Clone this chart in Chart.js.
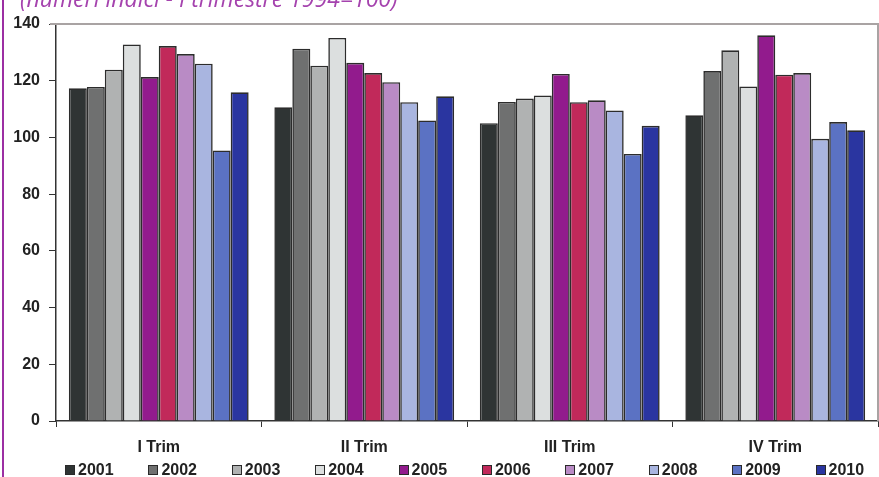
<!DOCTYPE html>
<html>
<head>
<meta charset="utf-8">
<script src="https://cdn.jsdelivr.net/npm/chart.js@4.4.1/dist/chart.umd.min.js"></script>
<style>
    html, body { margin: 0; padding: 0; background: #fff; }
    #wrap { position: relative; width: 879px; height: 477px; overflow: hidden; }
    #wrap canvas { position: absolute; left: 0; top: 0; }
    #edge { position: absolute; left: 2px; top: 0; width: 2px; height: 477px; background: #9c2fa3; }
    #note { position: absolute; left: 20px; top: -18px; white-space: nowrap;
            font: italic 23px "Open Sans", sans-serif; color: #a543ae; }
    #legend { position: absolute; left: 65px; top: 460px; height: 20px; display: flex;
              font: bold 16px "Liberation Sans", Arial, sans-serif; color: #222; }
    #legend .item { width: 83.4px; display: flex; align-items: center; white-space: nowrap; }
    #legend .box { width: 8px; height: 8px; border: 1px solid #2a2a2a; margin-right: 3px; flex: none; }
</style>
</head>
<body>
<div id="wrap">
    <canvas id="chart" width="879" height="477"></canvas>
    <div id="edge"></div>
    <div id="note">(numeri indici - I trimestre 1994=100)</div>
    <div id="legend"></div>
</div>
<script>
const quarters = ['I Trim', 'II Trim', 'III Trim', 'IV Trim'];
const years = ['2001', '2002', '2003', '2004', '2005', '2006', '2007', '2008', '2009', '2010'];

// one value per quarter for each year
const y2001 = [117.3, 110.6, 105.0, 107.8];
const y2002 = [117.8, 131.3, 112.5, 123.4];
const y2003 = [123.9, 125.3, 113.7, 130.7];
const y2004 = [132.8, 135.1, 114.8, 118.0];
const y2005 = [121.3, 126.3, 122.4, 136.0];
const y2006 = [132.2, 122.7, 112.4, 122.1];
const y2007 = [129.4, 119.5, 113.1, 122.7];
const y2008 = [126.0, 112.4, 109.5, 99.5];
const y2009 = [95.4, 106.0, 94.2, 105.4];
const y2010 = [115.9, 114.5, 104.1, 102.5];
const yearValues = [y2001, y2002, y2003, y2004, y2005, y2006, y2007, y2008, y2009, y2010];

const yearColors = ['#2f3434', '#6f7070', '#b0b2b2', '#dcdfdf', '#921b8d',
                    '#c1295a', '#b98bc5', '#a9b5e0', '#5b72c3', '#2a35a0'];

const yTicks = [0, 20, 40, 60, 80, 100, 120, 140];

const labelFont = { family: '"Liberation Sans", Arial, sans-serif', weight: 'bold', size: 16 };

// grey top and right edge of the plot box
const framePlugin = {
    id: 'frame',
    beforeDatasetsDraw(chart) {
        const { ctx, chartArea: a } = chart;
        ctx.save();
        ctx.strokeStyle = '#a9a3a3';
        ctx.lineWidth = 2;
        ctx.beginPath();
        ctx.moveTo(a.left - 6, a.top);
        ctx.lineTo(a.right, a.top);
        ctx.lineTo(a.right, a.bottom);
        ctx.stroke();
        ctx.restore();
    }
};

// legend row built from the chart's own legend items
const htmlLegend = {
    id: 'htmlLegend',
    afterUpdate(chart) {
        const holder = document.getElementById('legend');
        holder.innerHTML = '';
        chart.options.plugins.legend.labels.generateLabels(chart).forEach(item => {
            const row = document.createElement('div');
            row.className = 'item';
            const box = document.createElement('span');
            box.className = 'box';
            box.style.background = item.fillStyle;
            const txt = document.createElement('span');
            txt.textContent = item.text;
            row.append(box, txt);
            holder.appendChild(row);
        });
    }
};

new Chart(document.getElementById('chart').getContext('2d'), {
    type: 'bar',
    data: {
        labels: quarters,
        datasets: years.map((yr, i) => ({
            label: yr,
            data: yearValues[i],
            backgroundColor: yearColors[i],
            borderColor: '#2c2c2c',
            borderWidth: 1.6,
            categoryPercentage: 0.875,
            barPercentage: 1.0
        }))
    },
    options: {
        responsive: false,
        animation: false,
        layout: { padding: { left: 0, right: 1, top: 24, bottom: 20 } },
        plugins: {
            tooltip: { enabled: false },
            legend: { display: false }
        },
        scales: {
            x: {
                afterFit: (s) => { s.height = 36; },
                grid: { offset: true, drawOnChartArea: false, color: '#333', tickLength: 6 },
                border: { color: '#333', width: 1.5 },
                ticks: { color: '#222', font: labelFont, padding: 11 }
            },
            y: {
                min: 0,
                max: 140,
                afterFit: (s) => { s.width = 56; },
                afterBuildTicks: (s) => { s.ticks = yTicks.map(v => ({ value: v })); },
                grid: { drawOnChartArea: false, color: '#333', tickLength: 7 },
                border: { color: '#333', width: 1.5 },
                ticks: { color: '#222', font: labelFont, padding: 9 }
            }
        }
    },
    plugins: [framePlugin, htmlLegend]
});
</script>
</body>
</html>
